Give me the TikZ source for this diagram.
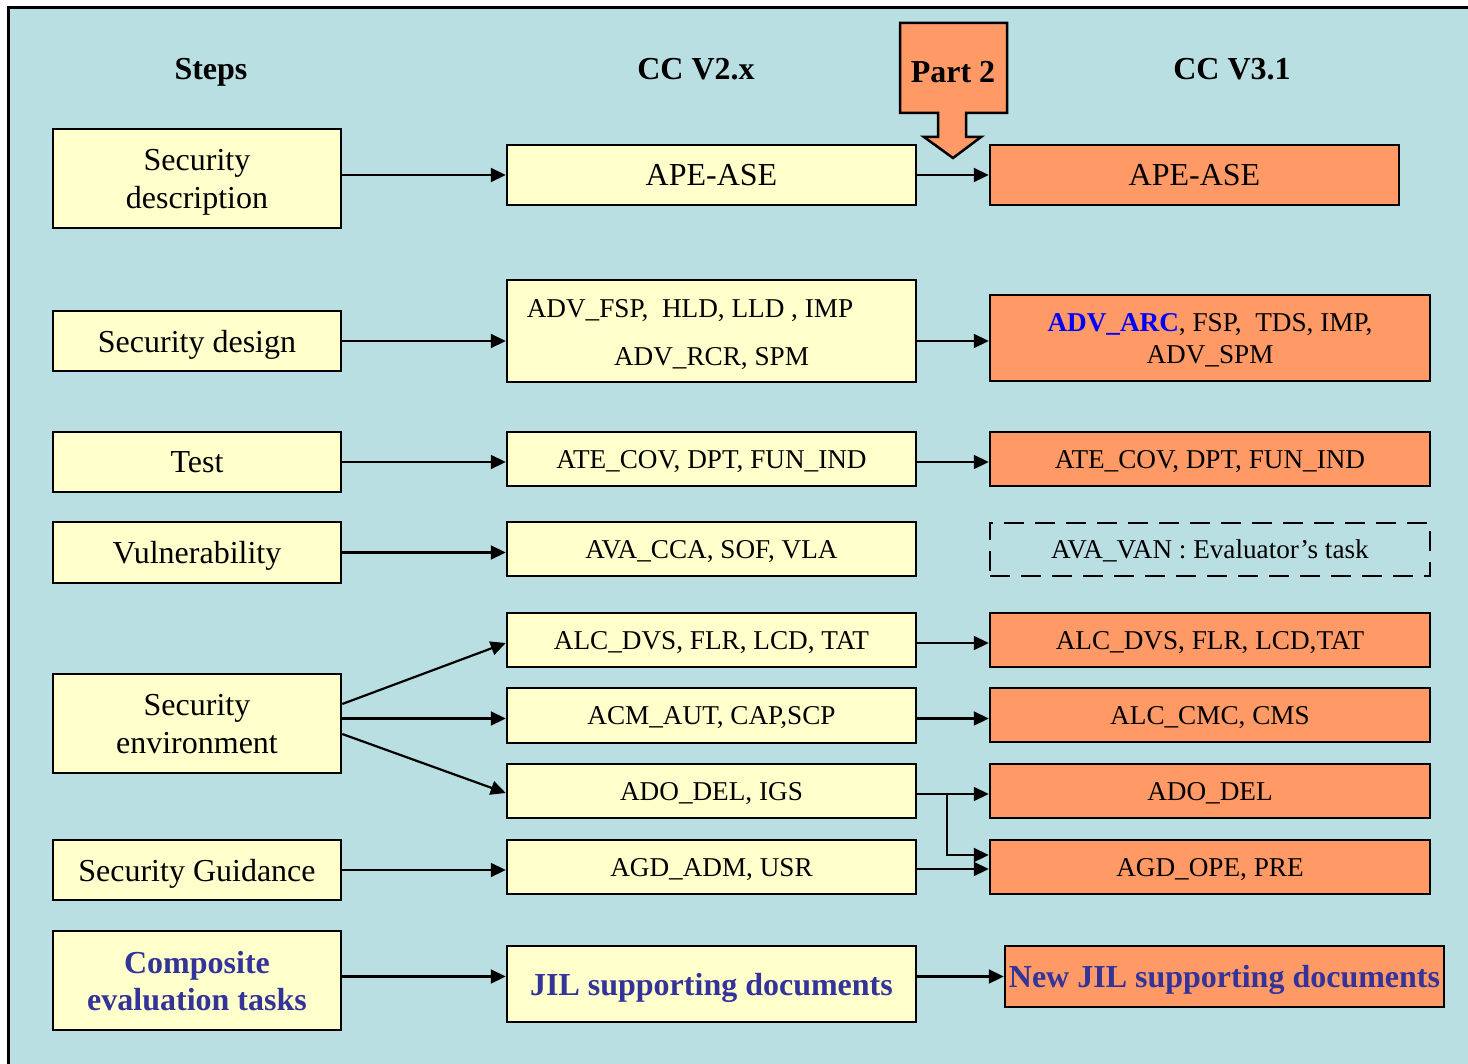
\documentclass[tikz,border=0pt]{standalone}
\usepackage{fontspec}
\setmainfont{Liberation Serif}
\usetikzlibrary{arrows.meta,calc}
\definecolor{bgblue}{HTML}{BADFE3}
\definecolor{boxyellow}{HTML}{FFFFCC}
\definecolor{boxorange}{HTML}{FF9966}
\definecolor{jilblue}{HTML}{333399}
\newcommand\bigtxt{\fontsize{32}{38}\selectfont}
\newcommand\smalltxt{\fontsize{27.2}{32}\selectfont}
\tikzset{
  basebox/.style={draw=black, line width=2.5pt, inner sep=0pt, align=center, text depth=0pt},
  ybox/.style={basebox, fill=boxyellow},
  obox/.style={basebox, fill=boxorange},
  dbox/.style={draw=black, line width=2.5pt, inner sep=0pt, align=center, text depth=0pt, dash pattern=on 20pt off 11pt},
  leftbox/.style={ybox, minimum width=288pt, font=\bigtxt},
  midbox/.style={ybox, minimum width=409pt, font=\smalltxt},
  rightbox/.style={obox, minimum width=440pt, font=\smalltxt},
  heading/.style={font=\bigtxt\bfseries, inner sep=0pt, anchor=base},
  arr/.style={line width=2.2pt, -{Triangle[length=15pt,width=14pt]}},
  jil/.style={text=jilblue, font=\bigtxt\bfseries},
}
\begin{document}
\begin{tikzpicture}[x=1pt,y=-1pt]
\useasboundingbox (0,0) rectangle (1468,1064);
\clip (0,0) rectangle (1468,1064);
\draw[fill=bgblue, line width=3pt] (8,8) rectangle (1500,1100);

% headings
\node[heading] (hsteps) at (211,80) {Steps};
\node[heading] (hv2) at (696,80) {CC V2.x};
\node[heading] (hv3) at (1232,80) {CC V3.1};

% Part 2 callout
\draw[fill=boxorange, line width=2.5pt, line join=miter]
  (900,23) -- (1007,23) -- (1007,113) -- (966,113) -- (966,137) -- (981,137)
  -- (953,158) -- (924,137) -- (938,137) -- (938,113) -- (900,113) -- cycle;
\node[heading] (part2) at (953,83) {Part 2};

% left column
\node[leftbox, minimum height=99pt] (secdesc) at (197,178.5) {Security\\description};
\node[leftbox, minimum height=60pt] (secdesign) at (197,341) {Security design};
\node[leftbox, minimum height=60pt] (test) at (197,462) {Test};
\node[leftbox, minimum height=61pt] (vuln) at (197,552.5) {Vulnerability};
\node[leftbox, minimum height=99pt] (secenv) at (197,723.5) {Security\\environment};
\node[leftbox, minimum height=60pt] (guid) at (197,870) {Security Guidance};
\node[leftbox, minimum height=99pt, text=jilblue, font=\fontsize{32}{37}\selectfont\bfseries] (comp) at (197,980.5) {Composite\\evaluation tasks};

% middle column
\node[midbox, minimum height=60pt, font=\bigtxt] (ape) at (711.5,175) {APE-ASE};
\node[midbox, minimum height=102pt] (adv) at (711.5,331) {};
\node[font=\smalltxt, inner sep=0pt, text depth=0pt] (advl1) at (690,308) {ADV\_FSP,\ \ HLD, LLD , IMP};
\node[font=\smalltxt, inner sep=0pt, text depth=0pt] (advl2) at (711.5,356) {ADV\_RCR, SPM};
\node[midbox, minimum height=54pt] (ate) at (711.5,459) {ATE\_COV, DPT, FUN\_IND};
\node[midbox, minimum height=54pt] (ava) at (711.5,549) {AVA\_CCA, SOF, VLA};
\node[midbox, minimum height=54pt] (alc) at (711.5,640) {ALC\_DVS, FLR, LCD, TAT};
\node[midbox, minimum height=55pt] (acm) at (711.5,715.5) {ACM\_AUT, CAP,SCP};
\node[midbox, minimum height=54pt] (ado) at (711.5,791) {ADO\_DEL, IGS};
\node[midbox, minimum height=54pt] (agd) at (711.5,867) {AGD\_ADM, USR};
\node[midbox, minimum height=76pt, jil] (jilm) at (711.5,984) {JIL supporting documents};

% right column
\node[obox, minimum width=409pt, minimum height=60pt, font=\bigtxt] (ape2) at (1194.5,175) {APE-ASE};
\node[rightbox, minimum height=86pt] (adv2) at (1210,338) {\textcolor{blue}{\bfseries ADV\_ARC}, FSP,\ \ TDS, IMP,\\ADV\_SPM};
\node[rightbox, minimum height=54pt] (ate2) at (1210,459) {ATE\_COV, DPT, FUN\_IND};
\node[dbox, minimum width=440pt, minimum height=53pt, font=\smalltxt] (ava2) at (1210,549.5) {AVA\_VAN : Evaluator’s task};
\node[rightbox, minimum height=54pt] (alc2) at (1210,640) {ALC\_DVS, FLR, LCD,TAT};
\node[rightbox, minimum height=54pt] (cmc2) at (1210,715) {ALC\_CMC, CMS};
\node[rightbox, minimum height=54pt] (ado2) at (1210,791) {ADO\_DEL};
\node[rightbox, minimum height=54pt] (agd2) at (1210,867) {AGD\_OPE, PRE};
\node[obox, minimum width=439pt, minimum height=61pt, jil] (jil2) at (1224.5,976.5) {New JIL supporting documents};

% connectors: left -> middle
\draw[arr] (secdesc.east |- ape.west) -- (ape.west);
\draw[arr] (secdesign.east) -- (secdesign.east -| adv.west);
\draw[arr] (test.east) -- (test.east -| ate.west);
\draw[arr] (vuln.east) -- (vuln.east -| ava.west);
\draw[arr] ($(secenv.east)+(0,-19.5)$) -- ($(alc.west)+(0,3)$);
\draw[arr] ($(secenv.east)+(0,-5)$) -- ($(acm.west)+(0,3)$);
\draw[arr] ($(secenv.east)+(0,10.5)$) -- ($(ado.west)+(0,2)$);
\draw[arr] (guid.east) -- (guid.east -| agd.west);
\draw[arr] (comp.east |- jil2.west) -- (jilm.west |- jil2.west);

% connectors: middle -> right
\draw[arr] (ape.east) -- (ape2.west);
\draw[arr] (adv.east |- secdesign.east) -- (adv2.west |- secdesign.east);
\draw[arr] ($(ate.east)+(0,3)$) -- ($(ate2.west)+(0,3)$);
\draw[arr] ($(alc.east)+(0,3)$) -- ($(alc2.west)+(0,3)$);
\draw[arr] ($(acm.east)+(0,3)$) coordinate (acmout) -- (acmout -| cmc2.west);
\draw[arr] ($(ado.east)+(0,3)$) -- ($(ado2.west)+(0,3)$);
\draw[arr] ($(ado.east)+(30,3)$) |- ($(agd2.west)+(0,-12)$);
\draw[arr] ($(agd.east)+(0,2)$) -- ($(agd2.west)+(0,2)$);
\draw[arr] (jilm.east |- jil2.west) -- (jil2.west);
\end{tikzpicture}
\end{document}
